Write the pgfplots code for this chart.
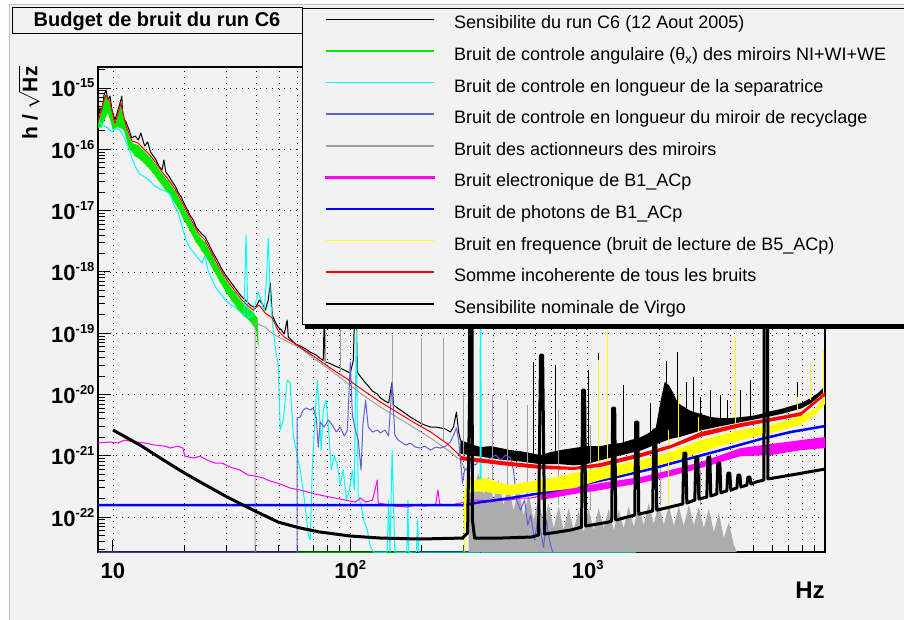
\documentclass[border=0pt]{standalone}
\usepackage{fontspec}
\setmainfont{Liberation Sans}
\usepackage{pgfplots}
\pgfplotsset{compat=1.18}

\definecolor{bg}{RGB}{242,242,242}
\definecolor{edge}{RGB}{252,252,252}
\definecolor{rgreen}{RGB}{0,235,0}
\definecolor{rcyan}{RGB}{0,255,255}
\definecolor{rviolet}{RGB}{96,96,216}
\definecolor{rgray}{RGB}{160,160,160}
\definecolor{rgrayfill}{RGB}{172,172,172}
\definecolor{elecpink}{RGB}{255,0,255}
\definecolor{rblue}{RGB}{0,0,255}
\definecolor{ryel}{RGB}{255,255,0}
\definecolor{rred}{RGB}{255,0,0}

% 10^n, ROOT style
\newcommand{\pw}[1]{10\raisebox{9pt}{\fontsize{13}{13}\selectfont #1}}

\begin{document}
\begin{tikzpicture}
\useasboundingbox (0,0) rectangle (904pt,620pt);
\clip (0,0) rectangle (904pt,620pt);
\fill[edge] (0,0) rectangle (904pt,620pt);
\fill[bg] (9pt,0) rectangle (904pt,615pt);
\draw[black!25, line width=1pt] (9pt,0) -- (9pt,615pt) -- (904pt,615pt);

\begin{axis}[
  at={(98pt,68pt)}, anchor=south west,
  scale only axis, width=727pt, height=485pt,
  xmode=log, ymode=log,
  xmin=8.65, xmax=10000, ymin=2.7e-23, ymax=2.2e-15,
  xtick={10,100,1000,10000},
  xticklabels={10,\pw{2},\pw{3},{}},
  minor xtick={20,30,40,50,60,70,80,90,200,300,400,500,600,700,800,900,2000,3000,4000,5000,6000,7000,8000,9000},
  ytick={1e-22,1e-21,1e-20,1e-19,1e-18,1e-17,1e-16,1e-15},
  yticklabels={\pw{-22},\pw{-21},\pw{-20},\pw{-19},\pw{-18},\pw{-17},\pw{-16},\pw{-15}},
  minor ytick={3e-23,4e-23,5e-23,6e-23,7e-23,8e-23,9e-23,
    2e-22,3e-22,4e-22,5e-22,6e-22,7e-22,8e-22,9e-22,
    2e-21,3e-21,4e-21,5e-21,6e-21,7e-21,8e-21,9e-21,
    2e-20,3e-20,4e-20,5e-20,6e-20,7e-20,8e-20,9e-20,
    2e-19,3e-19,4e-19,5e-19,6e-19,7e-19,8e-19,9e-19,
    2e-18,3e-18,4e-18,5e-18,6e-18,7e-18,8e-18,9e-18,
    2e-17,3e-17,4e-17,5e-17,6e-17,7e-17,8e-17,9e-17,
    2e-16,3e-16,4e-16,5e-16,6e-16,7e-16,8e-16,9e-16,2e-15},
  tick pos=left, tick align=inside,
  major tick length=12pt, minor tick length=7pt,
  tick style={black, line width=1pt},
  xmajorgrids, xminorgrids, ymajorgrids,
  grid style={black, line width=0.7pt, dash pattern=on 0.7pt off 5.3pt},
  axis line style={black, line width=1.5pt},
  ticklabel style={font=\bfseries\fontsize{22}{22}\selectfont},
  xticklabel style={text height=19pt, yshift=-4pt},
  xlabel={Hz}, ylabel={h / $\sqrt{\mbox{Hz}}$},
  every axis x label/.style={at={(rel axis cs:0.9794,-0.0784)}, anchor=center, font=\bfseries\fontsize{24}{24}\selectfont},
  every axis y label/.style={at={(rel axis cs:-0.0949,0.9258)}, anchor=center, rotate=90, font=\bfseries\fontsize{21}{21}\selectfont},
  no markers, unbounded coords=jump,
  every axis plot/.append style={line join=round},
  legend image code/.code={\draw[#1] (0pt,5pt) -- (108pt,5pt);},
  legend cell align=left,
  legend style={at={(0.2806,1.1216)}, anchor=north west, draw=black, line width=1.2pt,
    fill=bg, font=\fontsize{18}{18}\selectfont,
    inner xsep=22pt, inner ysep=0pt, column sep=19pt, row sep=0pt,
    nodes={inner xsep=0pt, inner ysep=7.3pt, text height=13pt, text depth=4pt}},
]

% --- legend ---
\addlegendimage{draw=black, line width=1.2pt}
\addlegendentry{Sensibilite du run C6 (12 Aout 2005)}
\addlegendimage{draw=rgreen, line width=1.6pt}
\addlegendentry{Bruit de controle angulaire (θ\textsubscript{x}) des miroirs NI+WI+WE}
\addlegendimage{draw=rcyan, line width=1.6pt}
\addlegendentry{Bruit de controle en longueur de la separatrice}
\addlegendimage{draw=rviolet, line width=1.6pt}
\addlegendentry{Bruit de controle en longueur du miroir de recyclage}
\addlegendimage{draw=rgray, line width=1.6pt}
\addlegendentry{Bruit des actionneurs des miroirs}
\addlegendimage{legend image code/.code={\fill[elecpink] (0pt,4.3pt) rectangle (108pt,5.7pt);}}
\addlegendentry{Bruit electronique de B1\_ACp}
\addlegendimage{draw=rblue, line width=2.4pt}
\addlegendentry{Bruit de photons de B1\_ACp}
\addlegendimage{draw=ryel, line width=1.6pt}
\addlegendentry{Bruit en frequence (bruit de lecture de B5\_ACp)}
\addlegendimage{draw=rred, line width=1.6pt}
\addlegendentry{Somme incoherente de tous les bruits}
\addlegendimage{draw=black, line width=2.6pt}
\addlegendentry{Sensibilite nominale de Virgo}

% --- sensitivity of run C6 ---
\addplot[black, line width=1pt, forget plot] coordinates {
 (8.65,3.24e-16) (8.82,4.72e-16) (9.0,4.06e-16) (9.17,7.69e-16) (9.35,9.27e-16) (9.53,6.37e-16)
 (9.72,7.41e-16) (9.9,4.38e-16) (10.2,3.01e-16) (10.5,4.38e-16) (10.8,6.37e-16) (10.9,7.41e-16)
 (11.0,3.24e-16) (11.35,2.79e-16) (11.7,2.06e-16) (12.0,1.53e-16) (12.4,1.65e-16) (12.8,1.42e-16)
 (13.1,1.84e-16) (13.6,1.13e-16) (14.0,1.32e-16) (14.4,9.03e-17) (14.8,7.77e-17) (15.2,6.69e-17)
 (15.6,5.34e-17) (16.1,4.59e-17) (16.4,6.69e-17) (16.7,4.26e-17) (17.2,3.67e-17) (17.8,2.93e-17)
 (18.3,2.52e-17) (18.8,2.01e-17) (19.4,1.67e-17) (19.9,1.33e-17) (20.5,1.06e-17) (21.1,8.48e-18)
 (21.8,7.03e-18) (22.4,5.40e-18) (23.1,4.65e-18) (23.7,4.15e-18) (24.5,3.71e-18) (25.2,2.97e-18)
 (25.9,2.37e-18) (26.7,1.89e-18) (27.5,1.56e-18) (28.3,1.25e-18) (29.1,1.03e-18) (30.0,8.57e-19)
 (30.9,7.38e-19) (31.8,6.34e-19) (32.7,5.47e-19) (33.7,4.70e-19) (34.7,4.04e-19) (35.7,3.61e-19)
 (36.8,3.23e-19) (37.9,2.88e-19) (39.0,2.67e-19) (40.2,2.77e-19) (41.4,3.48e-19) (42.6,2.99e-19)
 (43.9,2.39e-19) (45.1,3.48e-19) (46.0,6.59e-19) (46.9,1.98e-19) (48.3,1.52e-19) (49.7,1.26e-19)
 (51.2,1.13e-19) (52.7,9.71e-20) (54.2,1.64e-19) (54.8,8.67e-20) (57.0,7.46e-20) (59.1,6.6e-20)
 (61.5,6.2e-20) (64.6,5.6e-20) (67.8,4.9e-20) (71.2,4.5e-20) (74.7,3.9e-20) (76.9,3.6e-20)
 (77.6,1.64e-19) (78.4,3.4e-20) (82.3,3.2e-20) (86.5,2.9e-20) (90.7,2.7e-20) (95.3,2.45e-20)
 (100,2.24e-20) (103,3.65e-20) (104,1.64e-19) (106,1.64e-19) (107,2.33e-20) (110,2.00e-20)
 (115,1.60e-20) (119,1.38e-20) (124,1.14e-20) (130,1.02e-20) (134,8.77e-21) (140,7.83e-21)
 (145,7.27e-21) (150,1.60e-20) (152,6.74e-21) (158,6.03e-21) (165,5.38e-21) (172,4.81e-21)
 (179,4.29e-21) (188,3.84e-21) (197,3.43e-21) (206,3.18e-21) (218,2.95e-21) (229,2.95e-21)
 (240,2.85e-21) (252,2.74e-21) (264,2.45e-21) (272,2.95e-21) (280,5.18e-21) (286,2.45e-21)
 (291,1.81e-21)
};
\addplot[fill=black, draw=none, forget plot] coordinates {
 (291,1.81e-21) (321,1.56e-21) (354,1.39e-21) (390,1.44e-21) (430,1.34e-21) (473,1.24e-21)
 (521,1.19e-21) (575,1.11e-21) (633,1.03e-21) (698,1.15e-21) (769,1.24e-21) (873,1.34e-21)
 (984,1.44e-21) (1135,1.44e-21) (1250,1.56e-21) (1377,1.62e-21) (1518,1.81e-21) (1673,2.02e-21)
 (1809,2.36e-21) (1936,2.84e-21) (2032,8.13e-21) (2111,1.60e-20) (2197,1.43e-20) (2285,1.09e-20)
 (2398,7.26e-21) (2517,6.49e-21) (2720,5.38e-21) (2998,4.81e-21) (3303,4.29e-21) (3640,4.13e-21)
 (4011,4.13e-21) (4420,4.29e-21) (4871,4.46e-21) (5368,4.81e-21) (5916,5.38e-21) (6519,5.80e-21)
 (7184,6.49e-21) (7917,7.26e-21) (8724,8.77e-21) (9429,1.09e-20) (10000,1.38e-20)
 (10000,1.12e-20) (8724,7.2e-21) (7917,5.9e-21) (6519,4.8e-21) (5368,4.1e-21) (4420,3.55e-21)
 (3640,3.05e-21) (2998,2.6e-21) (2720,2.3e-21) (2467,2.05e-21) (2239,1.9e-21) (2032,1.65e-21)
 (1844,1.42e-21) (1673,1.22e-21) (1377,1.02e-21) (1135,8.5e-22) (984,7.3e-22) (873,7.0e-22)
 (769,7.3e-22) (633,7.3e-22) (521,8.1e-22) (430,8.7e-22) (354,9.7e-22) (291,1.08e-21)
} -- cycle;
\addplot[black, line width=1pt, forget plot] coordinates {
 (592,1.03e-21) (592,3.39e-20) (592,nan)
 (733,1.15e-21) (733,3.03e-20) (733,nan)
 (1010,1.34e-21) (1010,2.51e-20) (1010,nan)
 (1113,1.44e-21) (1113,4.76e-20) (1113,nan)
 (1419,1.62e-21) (1419,1.43e-20) (1419,nan)
 (1844,2.18e-21) (1844,7.26e-21) (1844,nan)
 (2150,1.0e-20) (2150,3.5e-20) (2150,nan)
 (2398,6.74e-21) (2398,4.93e-20) (2398,nan)
 (2600,6.0e-21) (2600,1.6e-20) (2600,nan)
 (2801,5.18e-21) (2801,1.93e-20) (2801,nan)
 (2998,4.81e-21) (2998,9.1e-21) (2998,nan)
 (3300,4.3e-21) (3300,1.2e-20) (3300,nan)
 (3640,4.13e-21) (3640,9.81e-21) (3640,nan)
 (3900,4.1e-21) (3900,8.0e-21) (3900,nan)
 (4420,4.29e-21) (4420,1.18e-20) (4420,nan)
 (4871,4.46e-21) (4871,1.72e-20) (4871,nan)
 (7689,7.0e-21) (7689,1.60e-20) (7689,nan)
 (8724,8.77e-21) (8724,3.39e-20)
};

% --- angular control noise: band plus jagged line ---
\addplot[fill=rgreen, draw=none, forget plot] coordinates {
 (8.65,2.59e-16) (9.17,5.91e-16) (9.35,7.13e-16) (9.72,5.48e-16) (10.2,2.40e-16) (10.8,5.28e-16)
 (11.34,2.22e-16) (12.02,1.27e-16) (12.74,1.17e-16) (13.51,9.38e-17) (14.32,7.48e-17) (15.18,5.54e-17)
 (16.09,3.96e-17) (17.05,3.04e-17) (18.25,2.09e-17) (19.35,1.38e-17) (20.51,8.80e-18) (21.74,5.82e-18)
 (23.04,3.85e-18) (24.43,3.07e-18) (25.9,1.96e-18) (27.44,1.30e-18) (29.09,8.57e-19) (30.84,6.11e-19)
 (32.69,4.53e-19) (34.65,3.35e-19) (36.72,2.67e-19) (38.93,2.22e-19) (40.47,1.77e-19)
 (40.86,6.42e-20) (40.08,1.13e-19) (37.81,1.58e-19) (35.67,1.91e-19) (33.65,2.48e-19) (31.75,3.35e-19)
 (29.95,4.70e-19) (28.26,6.84e-19) (26.66,1.03e-18) (25.15,1.56e-18) (23.73,2.20e-18) (22.38,3.07e-18)
 (21.12,4.65e-18) (19.92,7.03e-18) (18.79,1.10e-17) (17.56,1.67e-17) (16.56,2.25e-17) (15.62,3.04e-17)
 (14.74,4.11e-17) (13.9,5.34e-17) (13.12,6.69e-17) (12.38,7.77e-17) (11.67,1.05e-16) (11.12,2.06e-16)
 (10.5,2.31e-16) (10.0,2.14e-16) (9.53,3.91e-16) (8.9,2.31e-16) (8.65,2.2e-16)
} -- cycle;
\addplot[rgreen, line width=1pt, forget plot] coordinates {
 (8.65,2.59e-16) (8.9,2.31e-16) (9.17,5.91e-16) (9.35,7.13e-16) (9.53,3.91e-16) (9.72,5.48e-16)
 (10.0,2.14e-16) (10.2,2.40e-16) (10.5,2.31e-16) (10.8,5.28e-16) (11.12,2.06e-16) (11.34,2.22e-16)
 (11.67,1.05e-16) (12.02,1.27e-16) (12.38,7.77e-17) (12.74,1.17e-16) (13.12,6.69e-17) (13.51,9.38e-17)
 (13.9,5.34e-17) (14.32,7.48e-17) (14.74,4.11e-17) (15.18,5.54e-17) (15.62,3.04e-17) (16.09,3.96e-17)
 (16.56,2.25e-17) (17.05,3.04e-17) (17.56,1.67e-17) (18.25,2.09e-17) (18.79,1.10e-17) (19.35,1.38e-17)
 (19.92,7.03e-18) (20.51,8.80e-18) (21.12,4.65e-18) (21.74,5.82e-18) (22.38,3.07e-18) (23.04,3.85e-18)
 (23.73,2.20e-18) (24.43,3.07e-18) (25.15,1.56e-18) (25.9,1.96e-18) (26.66,1.03e-18) (27.44,1.30e-18)
 (28.26,6.84e-19) (29.09,8.57e-19) (29.95,4.70e-19) (30.84,6.11e-19) (31.75,3.35e-19) (32.69,4.53e-19)
 (33.65,2.48e-19) (34.65,3.35e-19) (35.67,1.91e-19) (36.72,2.67e-19) (37.81,1.58e-19) (38.93,2.22e-19)
 (40.08,1.13e-19) (40.47,1.77e-19) (40.86,6.42e-20) (59.7,nan) (59.7,2.7e-23) (182,2.7e-23)
};

% --- beam splitter length control noise ---
\addplot[rcyan, line width=1pt, forget plot] coordinates {
 (8.65,3.01e-16) (8.99,2.49e-16) (9.53,2.22e-16) (9.9,1.91e-16) (10.3,2.22e-16) (10.7,2.06e-16)
 (11.12,1.59e-16) (11.56,1.13e-16) (12.02,7.21e-17) (12.5,4.95e-17) (12.99,3.95e-17) (13.64,3.53e-17)
 (14.32,3.04e-17) (15.0,2.52e-17) (15.78,2.25e-17) (16.6,2.09e-17) (17.39,1.87e-17) (18.08,1.23e-17)
 (18.79,9.46e-18) (19.54,5.60e-18) (20.31,3.31e-18) (21.12,2.46e-18) (21.95,2.04e-18) (22.82,1.68e-18)
 (23.73,1.40e-18) (24.4,1.82e-18) (25.15,1.07e-18) (26.15,7.38e-19) (27.18,5.47e-19) (28.26,4.53e-19)
 (29.7,3.48e-19) (31.14,2.99e-19) (32.69,2.67e-19) (34.31,2.22e-19) (35.67,1.91e-19) (36.37,4.0e-18)
 (37.08,1.77e-19) (38.55,1.91e-19) (39.7,2.88e-19) (40.86,4.70e-19) (42.1,3.48e-19) (43.4,2.22e-19)
 (44.3,7.38e-19) (45.1,3.57e-18) (46.0,4.20e-19) (47.3,1.13e-19) (48.8,4.41e-20) (49.7,3.03e-20)
 (50.7,2.64e-21) (52.2,3.84e-21) (54.2,1.72e-20) (55.8,1.54e-20) (57.5,2.18e-21) (59.7,1.03e-21)
 (61.5,5.87e-22) (63.3,2.77e-22) (65.2,1.08e-22) (66.5,5.11e-23) (67.8,4.23e-23) (69.1,5.87e-22)
 (70.5,2.64e-21) (72.6,1.72e-20) (74.0,5.59e-21) (75.4,1.24e-21) (76.9,5.59e-21) (79.2,8.13e-21)
 (81.6,1.81e-21) (83.2,5.87e-22) (85.6,1.03e-21) (88.2,7.08e-22) (90.7,3.34e-22) (93.4,5.87e-22)
 (96.2,1.90e-22) (99.1,2.77e-22) (102,5.87e-22) (104,2.77e-22) (106,1.13e-19) (108,2.29e-22)
 (111,1.57e-22) (114,8.97e-23) (118,6.16e-23) (121,3.51e-23) (125,2.7e-23) (143,2.7e-23)
 (145,1.90e-22) (147,2.7e-23) (150,1.24e-21) (154,2.7e-23) (173,2.7e-23) (175,1.90e-22)
 (176,2.7e-23) (190,2.7e-23) (192,8.97e-23) (194,2.7e-23) (352,2.7e-23) (354,1e-14)
 (356,2.7e-23) (1600,2.7e-23)
};

% --- mirror actuators noise ---
\addplot[fill=rgrayfill, draw=none, forget plot] coordinates {
 (315,5.87e-22) (330,2.77e-22) (347,5.24e-22) (364,2.29e-22) (382,4.68e-22) (401,1.90e-22)
 (421,4.18e-22) (442,1.57e-22) (464,3.47e-22) (487,1.30e-22) (512,2.88e-22) (537,1.08e-22)
 (564,2.38e-22) (592,8.97e-23) (621,1.97e-22) (652,7.43e-23) (684,1.70e-22) (719,6.63e-23)
 (755,1.51e-22) (792,6.16e-23) (832,1.40e-22) (873,6.16e-23) (916,1.30e-22) (962,5.71e-23)
 (1010,1.35e-22) (1060,6.16e-23) (1113,1.40e-22) (1168,6.63e-23) (1226,1.35e-22) (1288,6.16e-23)
 (1352,1.30e-22) (1419,6.63e-23) (1489,1.51e-22) (1564,6.9e-23) (1642,1.57e-22) (1723,7.43e-23)
 (1809,1.70e-22) (1899,7.7e-23) (1994,1.63e-22) (2093,7.43e-23) (2197,1.57e-22) (2307,7.15e-23)
 (2421,1.51e-22) (2542,7.15e-23) (2669,1.57e-22) (2801,7.43e-23) (2941,1.46e-22) (3087,6.63e-23)
 (3240,1.35e-22) (3401,5.71e-23) (3571,1.16e-22) (3748,4.56e-23) (3935,8.3e-23) (4130,3.51e-23)
 (4250,2.7e-23) (315,2.7e-23)
} -- cycle;
\addplot[rgray, line width=1pt, forget plot] coordinates {
 (39.7,2.7e-23) (39.7,1.52e-19) (41.66,1.36e-19) (43.8,1.26e-19) (46.0,1.05e-19) (48.3,9.35e-20)
 (50.7,8.35e-20) (55.8,6.92e-20) (61.5,5.73e-20) (69.8,3.93e-20) (82.3,2.51e-20) (97.2,1.54e-20)
 (113,9.81e-21) (134,6.25e-21) (157,4.29e-21) (184,2.95e-21) (218,1.95e-21) (257,1.24e-21)
 (291,8.54e-22) (306,5.87e-22) (315,5.87e-22)
};
\addplot[rgray, line width=1pt, forget plot] coordinates {
 (78.4,3.03e-20) (78.4,1.13e-19) (78.4,nan)
 (90.7,2.33e-20) (90.7,1.13e-19) (90.7,nan)
 (150,6.74e-21) (150,9.35e-20) (150,nan)
 (199,3.18e-21) (199,8.35e-20) (199,nan)
 (247,1.81e-21) (247,8.35e-20) (247,nan)
 (300,8.54e-22) (300,1.09e-20) (300,nan)
 (397,4.03e-22) (397,9.81e-21) (397,nan)
 (460,3.34e-22) (460,8.13e-21) (460,nan)
 (559,2.29e-22) (559,6.74e-21) (559,nan)
 (621,1.90e-22) (621,8.13e-21) (621,nan)
 (755,1.57e-22) (755,5.59e-21) (755,nan)
 (1030,1.30e-22) (1030,3.18e-21) (1030,nan)
 (1313,1.30e-22) (1313,1.81e-21) (1313,nan)
 (2032,1.57e-22) (2032,8.54e-22) (2032,nan)
 (2998,1.57e-22) (2998,5.87e-22)
};

% --- power recycling mirror length control noise ---
\addplot[rviolet, line width=1pt, forget plot] coordinates {
 (8.65,2.7e-23) (59.7,2.7e-23) (59.7,4.14e-21) (61.5,4.29e-21) (63.3,5.59e-21) (65.2,6.03e-21)
 (67.8,5.59e-21) (69.8,6.03e-21) (71.9,4.13e-21) (73.3,1.39e-21) (74.7,3.56e-21) (77.6,2.95e-21)
 (80.8,3.84e-21) (84.0,3.18e-21) (87.3,2.45e-21) (90.7,2.95e-21) (94.3,2.10e-21) (97.2,2.64e-21)
 (100,3.39e-20) (102,4.63e-21) (105,2.64e-21) (108,1.81e-21) (111,5.87e-22) (113,3.18e-21)
 (116,8.13e-21) (119,2.95e-21) (124,2.45e-21) (130,2.64e-21) (134,2.36e-21) (140,2.64e-21)
 (145,2.10e-21) (150,1.54e-20) (154,2.18e-21) (159,1.81e-21) (166,1.62e-21) (172,1.50e-21)
 (179,1.62e-21) (188,1.39e-21) (197,1.34e-21) (206,1.44e-21) (218,1.24e-21) (229,1.39e-21)
 (240,1.34e-21) (252,1.44e-21) (264,1.68e-21) (272,2.18e-21) (280,2.84e-21) (286,1.81e-21)
 (291,8.54e-22) (297,3.60e-22) (303,5.87e-22) (312,6.33e-22) (321,7.92e-22) (337,7.08e-22)
 (354,9.2e-22) (371,7.92e-22) (390,9.2e-22) (410,1.03e-21) (430,8.54e-22) (452,1.03e-21)
 (473,9.2e-22) (487,5.87e-22) (502,1.90e-22) (521,1.30e-22) (542,1.90e-22) (559,7.43e-23)
 (575,1.08e-22) (598,4.23e-23) (615,8.97e-23) (633,6.16e-23) (652,3.2e-23) (670,8.97e-23)
 (690,4.23e-23) (712,2.7e-23)
};

% --- B1_ACp electronic noise ---
\addplot[elecpink, line width=1pt, forget plot] coordinates {
 (8.65,1.62e-21) (9.72,1.68e-21) (10.5,1.62e-21) (11.2,1.81e-21) (12.4,1.68e-21) (13.6,1.62e-21)
 (15.0,1.50e-21) (16.6,1.44e-21) (17.4,1.34e-21) (18.8,1.44e-21) (19.7,1.34e-21) (20.1,9.9e-22)
 (21.9,9.2e-22) (23.3,9.9e-22) (24.9,8.54e-22) (26.9,7.63e-22) (28.8,7.63e-22) (31.1,6.57e-22)
 (34.3,5.87e-22) (37.1,4.86e-22) (39.7,4.68e-22) (43.0,4.34e-22) (46.0,3.88e-22) (50.7,3.47e-22)
 (55.8,2.98e-22) (61.5,2.77e-22) (71.2,2.38e-22) (82.3,2.12e-22) (95.3,1.90e-22) (105,1.76e-22)
 (110,2.05e-22) (116,1.76e-22) (124,1.90e-22) (130,4.03e-22) (131,1.70e-22) (140,1.63e-22)
 (155,1.51e-22) (172,1.46e-22) (188,1.57e-22) (206,1.51e-22) (229,1.63e-22) (234,2.77e-22)
 (238,1.63e-22) (264,1.57e-22) (291,1.70e-22) (321,1.90e-22) (354,1.90e-22) (390,1.76e-22)
 (430,1.90e-22) (473,1.90e-22) (521,2.05e-22) (575,2.05e-22) (633,2.21e-22)
};
\addplot[fill=elecpink, draw=none, forget plot] coordinates {
 (633,2.57e-22) (873,2.98e-22) (1135,3.60e-22) (1673,4.51e-22) (2239,5.87e-22) (2998,7.92e-22)
 (4420,1.34e-21) (5916,1.56e-21) (7917,1.81e-21) (10000,2.02e-21)
 (10000,1.34e-21) (7917,1.24e-21) (5916,1.03e-21) (4420,9.9e-22) (2998,6.32e-22) (2239,4.68e-22)
 (1673,3.60e-22) (1135,2.77e-22) (873,2.38e-22) (633,1.90e-22)
} -- cycle;

% --- B1_ACp shot noise ---
\addplot[rblue, line width=2.5pt, forget plot] coordinates {
 (8.65,1.57e-22) (300,1.57e-22) (354,1.76e-22) (473,2.05e-22) (678,2.57e-22) (934,3.34e-22)
 (1326,4.51e-22) (1844,6.09e-22) (2542,8.54e-22) (3640,1.24e-21) (5370,1.88e-21) (7184,2.45e-21)
 (10000,3.06e-21)
};

% --- frequency noise ---
\addplot[fill=ryel, draw=none, forget plot] coordinates {
 (300,1.90e-22) (309,4.34e-22) (337,4.03e-22) (371,4.34e-22) (417,3.74e-22) (473,3.34e-22)
 (548,3.74e-22) (633,4.03e-22) (769,4.68e-22) (873,5.24e-22) (1135,6.33e-22) (1377,7.35e-22)
 (1673,8.54e-22) (2239,1.15e-21) (2998,1.81e-21) (4420,2.64e-21) (5916,3.18e-21) (7917,4.46e-21)
 (9158,6.03e-21) (10000,9.45e-21)
 (10000,7.0e-21) (9158,4.81e-21) (7917,3.18e-21) (5916,2.36e-21) (4420,1.81e-21) (2998,1.15e-21)
 (2239,7.92e-22) (1673,5.87e-22) (1377,4.86e-22) (1135,4.03e-22) (873,2.98e-22) (769,2.77e-22)
 (633,2.57e-22) (548,2.5e-22) (473,2.3e-22) (417,2.4e-22) (371,2.6e-22) (337,2.6e-22)
 (309,2.4e-22) (303,2.7e-23) (300,2.7e-23)
} -- cycle;
\addplot[ryel, line width=1pt, forget plot] coordinates {
 (1113,5.87e-22) (1113,3.65e-20) (1113,nan)
 (1214,6.33e-22) (1214,1.13e-19) (1214,nan)
 (2197,1.70e-22) (2197,2.64e-21) (2197,nan)
 (2421,1.24e-21) (2421,1.05e-20) (2421,nan)
 (2941,1.68e-21) (2941,4.29e-21) (2941,nan)
 (4210,2.45e-21) (4210,8.67e-20) (4210,nan)
 (7689,4.13e-21) (7689,9.10e-21) (7689,nan)
 (8724,8.13e-21) (8724,3.39e-20) (8724,nan)
 (9898,9.45e-21) (9898,5.32e-20)
};

% --- incoherent sum ---
\addplot[rred, line width=1pt, forget plot] coordinates {
 (8.65,2.79e-16) (9.17,6.37e-16) (9.35,7.69e-16) (9.72,5.91e-16) (10.2,2.59e-16) (10.8,5.69e-16)
 (11.34,2.40e-16) (12.02,1.37e-16) (12.74,1.27e-16) (13.51,1.01e-16) (14.32,8.07e-17) (15.18,5.97e-17)
 (16.09,4.26e-17) (17.05,3.28e-17) (18.25,2.25e-17) (19.35,1.49e-17) (20.51,9.46e-18) (21.74,6.28e-18)
 (23.04,4.15e-18) (24.43,3.31e-18) (25.9,2.11e-18) (27.44,1.39e-18) (29.09,9.24e-19) (30.84,6.59e-19)
 (32.69,4.88e-19) (34.65,3.61e-19) (36.72,2.88e-19) (38.93,2.39e-19) (41.26,2.88e-19) (43.8,2.13e-19)
 (46.9,1.77e-19) (49.7,1.09e-19) (52.7,8.67e-20) (57.0,7.2e-20) (61.5,5.9e-20) (69.8,4.25e-20)
 (82.3,2.71e-20) (97.2,1.79e-20) (113,1.18e-20) (134,7.54e-21) (157,5.18e-21) (184,3.56e-21)
 (218,2.45e-21) (257,1.56e-21) (291,9.9e-22)
};
\addplot[fill=rred, draw=none, forget plot] coordinates {
 (291,9.9e-22) (430,8.22e-22) (633,7.08e-22) (873,6.57e-22) (1135,7.63e-22) (1673,1.11e-21)
 (2239,1.50e-21) (2998,2.45e-21) (4420,3.43e-21) (6519,4.46e-21) (7917,5.18e-21) (10000,1.09e-20)
 (10000,9.6e-21) (7917,4.5e-21) (6519,3.9e-21) (4420,2.95e-21) (2998,2.05e-21) (2239,1.33e-21)
 (1673,9.5e-22) (1135,6.6e-22) (873,5.9e-22) (633,6.1e-22) (430,7.1e-22) (291,8.5e-22)
} -- cycle;

% --- nominal Virgo sensitivity ---
\addplot[black, line width=3pt, forget plot] coordinates {
 (10,2.64e-21) (13.0,1.50e-21) (16.6,8.2e-22) (19.7,5.44e-22) (23.3,3.74e-22) (30.3,2.13e-22)
 (39.0,1.30e-22) (49.7,8.3e-23) (61.5,6.64e-23) (74.7,5.71e-23) (100,4.92e-23) (134,4.56e-23)
 (197,4.40e-23) (297,4.56e-23) (312,5.51e-23) (318,8.13e-21) (321,1e-14) (324,1e-14)
 (327,8.97e-23) (334,4.56e-23) (430,4.56e-23) (580,4.74e-23) (621,5.11e-23) (633,4.41e-20)
 (646,4.41e-20) (659,5.30e-23) (848,6.16e-23) (943,6.89e-23) (952,1.18e-20) (971,1.18e-20)
 (981,7.16e-23) (1226,8.32e-23) (1263,8.6e-23) (1275,6.03e-21) (1300,6.03e-21) (1313,8.97e-23)
 (1579,1.08e-22) (1594,3.56e-21) (1626,3.56e-21) (1642,1.12e-22) (1880,1.26e-22) (1899,2.64e-21)
 (1936,2.64e-21) (1955,1.30e-22) (2517,1.64e-22) (2542,1.11e-21) (2592,1.11e-21) (2617,1.7e-22)
 (2828,1.90e-22) (2856,9.55e-22) (2912,9.55e-22) (2941,1.97e-22) (3178,2.13e-22) (3208,9.55e-22)
 (3272,9.55e-22) (3303,2.21e-22) (3501,2.39e-22) (3535,7.63e-22) (3606,7.63e-22) (3640,2.49e-22)
 (3859,2.69e-22) (3897,5.24e-22) (3973,5.24e-22) (4011,2.77e-22) (4254,3.0e-22) (4296,4.86e-22)
 (4380,4.86e-22) (4422,3.1e-22) (4687,3.34e-22) (4733,4.51e-22) (4826,4.51e-22) (4873,3.47e-22)
 (5116,3.74e-22) (5527,4.03e-22) (5585,1e-14) (5690,1e-14) (5746,4.2e-22) (7187,4.86e-22)
 (10000,6.09e-22)
};
\end{axis}

% legend shadow (ROOT style), under the legend's bottom edge
\fill[black] (305pt,291pt) rectangle (904pt,296pt);
\node[draw=black, line width=1pt, fill=bg, minimum width=290pt, minimum height=26pt, inner sep=0pt,
  font=\bfseries\fontsize{20}{20}\selectfont] at (157pt,599pt) {Budget de bruit du run C6};
\end{tikzpicture}
\end{document}
